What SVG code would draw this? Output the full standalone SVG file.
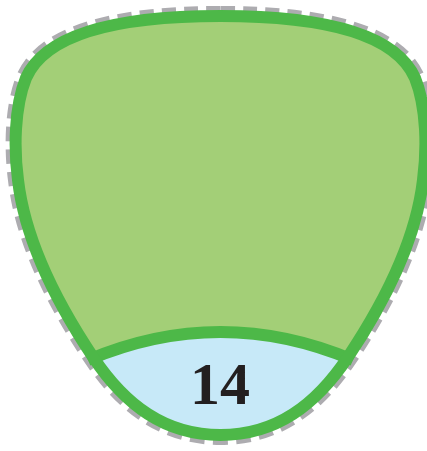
<svg xmlns="http://www.w3.org/2000/svg" width="427" height="451" viewBox="0 0 427 451">
<style>
.fill{fill:#a3cf77}
.blue{fill:#c7e9f8}
.outline{fill:none;stroke:#4db848;stroke-width:12;stroke-linejoin:round}
.dash{fill:none;stroke:#adacb0;stroke-width:20;stroke-dasharray:14 8}
.div{fill:none;stroke:#4db848;stroke-width:12}
.lbl{font-family:"Liberation Serif","Times New Roman",serif;font-weight:bold;font-size:60px;fill:#231f20;text-anchor:middle}
</style>
<defs>
<path id="shape" d="M220.5,16 C120,16 46,33 26,78 C14,108 14,150 18,180 C25,240 55,300 93,357 C125,405 165,435 220.5,435 C276,435 316,405 348,357 C386,300 416,240 423,180 C427,150 427,108 415,78 C395,33 321,16 220.5,16 Z"/>
<clipPath id="clip"><use href="#shape"/></clipPath>
</defs>
<g id="region">
<use href="#shape" class="dash"/>
<use href="#shape" class="fill"/>
<path class="blue" clip-path="url(#clip)" d="M60,380 L93,357 Q220.5,305 348,357 L381,380 L381,451 L60,451 Z"/>
<path class="div" d="M88,360 Q220.5,304 353,360"/>
<use href="#shape" class="outline"/>
</g>
<g id="label">
<text class="lbl" x="220" y="404">14</text>
</g>
</svg>
